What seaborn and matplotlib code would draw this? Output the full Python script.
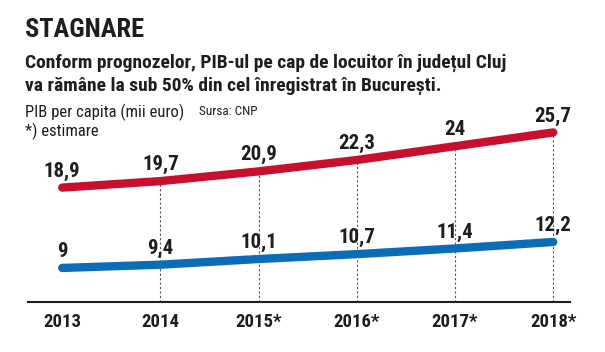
import matplotlib
matplotlib.use("Agg")
import matplotlib.pyplot as plt
import seaborn as sns
import pandas as pd

# --------------------------------------------------------------
# Data
# --------------------------------------------------------------
years = [2013, 2014, 2015, 2016, 2017, 2018]
year_labels = ["2013", "2014", "2015*", "2016*", "2017*", "2018*"]
bucuresti = [18.9, 19.7, 20.9, 22.3, 24.0, 25.7]
cluj = [9.0, 9.4, 10.1, 10.7, 11.4, 12.2]
bucuresti_labels = ["18,9", "19,7", "20,9", "22,3", "24", "25,7"]
cluj_labels = ["9", "9,4", "10,1", "10,7", "11,4", "12,2"]

df = pd.DataFrame(
    {
        "an": years * 2,
        "pib": bucuresti + cluj,
        "zona": ["Bucuresti"] * len(years) + ["Cluj"] * len(years),
    }
)

sns.set_style("white")
plt.rcParams["font.family"] = ["Roboto Condensed", "Archivo Narrow", "DejaVu Sans"]

red = "#c8102e"
blue = "#0b6cb8"
ink = "#1e1e1e"

fig = plt.figure(figsize=(6.05, 3.52), dpi=100)
ax = fig.add_axes([0.046, 0.142, 0.896, 0.574])

sns.lineplot(
    data=df,
    x="an",
    y="pib",
    hue="zona",
    palette={"Bucuresti": red, "Cluj": blue},
    linewidth=6,
    legend=False,
    ax=ax,
)
for line in ax.lines:
    line.set_solid_capstyle("round")
    line.set_solid_joinstyle("round")

ax.set_xlim(2012.65, 2018.17)
ax.set_ylim(4.8, 29.7)

# dashed guides from the top line down to the axis
for x, y in zip(years[1:], bucuresti[1:]):
    ax.plot([x, x], [4.8, y], color="#555555", lw=0.8, ls=(0, (2, 2)), zorder=0)

# value labels
for x, y, t in zip(years, bucuresti, bucuresti_labels):
    ax.text(x, y + 0.85, t, ha="center", va="bottom",
            fontsize=15, fontweight="bold", color=ink)
for x, y, t in zip(years, cluj, cluj_labels):
    ax.text(x, y + 0.85, t, ha="center", va="bottom",
            fontsize=15, fontweight="bold", color=ink)

ax.set_xticks(years)
ax.set_xticklabels(year_labels, fontsize=13.5, fontweight="bold", color=ink)
ax.set_yticks([])
ax.set_xlabel("")
ax.set_ylabel("")
ax.tick_params(axis="x", length=0, pad=8)
for side in ["top", "right", "left"]:
    ax.spines[side].set_visible(False)
ax.spines["bottom"].set_color(ink)
ax.spines["bottom"].set_linewidth(1.5)

# headings
fig.text(0.041, 0.895, "STAGNARE", fontsize=19, fontweight="bold", color=ink)
fig.text(0.041, 0.807,
         "Conform prognozelor, PIB-ul pe cap de locuitor în județul Cluj",
         fontsize=14, fontweight="bold", color=ink)
fig.text(0.041, 0.742, "va rămâne la sub 50% din cel înregistrat în București.",
         fontsize=14, fontweight="bold", color=ink)
fig.text(0.041, 0.668, "PIB per capita (mii euro)", fontsize=12, color=ink)
fig.text(0.041, 0.612, "*) estimare", fontsize=12, color=ink)
fig.text(0.329, 0.672, "Sursa: CNP", fontsize=9.5, color=ink)

plt.savefig("out.png", dpi=100, facecolor="white")
